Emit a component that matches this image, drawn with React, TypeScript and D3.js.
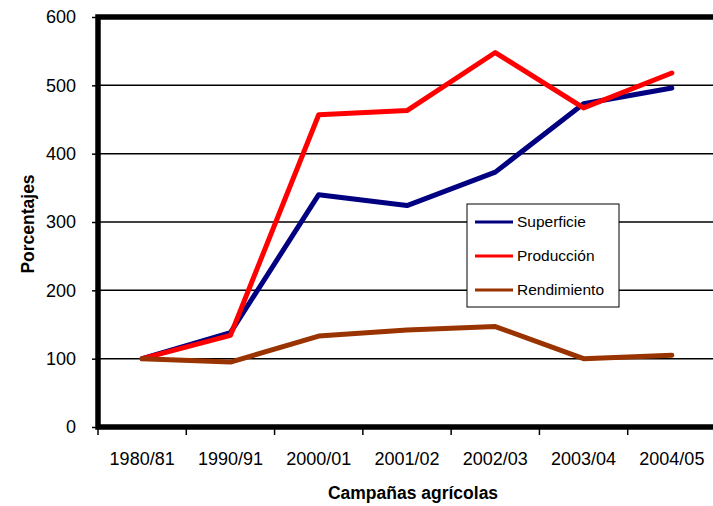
import React, { useEffect, useRef } from "react";
import * as d3 from "d3";

const campaigns = ["1980/81", "1990/91", "2000/01", "2001/02", "2002/03", "2003/04", "2004/05"];
const superficie = [100, 138, 340, 324, 373, 473, 496];
const produccion = [100, 134, 457, 463, 548, 467, 518];
const rendimiento = [100, 95, 133, 142, 147, 100, 105];
const yTicks = [0, 100, 200, 300, 400, 500, 600];

const series = [
  { name: "Superficie", values: superficie, color: "#000080" },
  { name: "Producción", values: produccion, color: "#ff0000" },
  { name: "Rendimiento", values: rendimiento, color: "#993300" },
];

export default function App() {
  const ref = useRef<SVGSVGElement>(null);

  useEffect(() => {
    const svg = d3.select(ref.current);
    svg.selectAll("*").remove();

    const left = 98, right = 716, top = 17, bottom = 427;
    const font = "Arial, 'Liberation Sans', sans-serif";

    const x = d3.scaleBand().domain(campaigns).range([left, right]);
    const y = d3.scaleLinear().domain([0, 600]).range([bottom, top]);

    // gridlines
    svg.append("g")
      .selectAll("line")
      .data(yTicks.filter(t => t > 0 && t < 600))
      .join("line")
      .attr("x1", left).attr("x2", right)
      .attr("y1", d => y(d)).attr("y2", d => y(d))
      .attr("stroke", "#000").attr("stroke-width", 1.5);

    // y axis
    const ya = svg.append("g")
      .attr("transform", `translate(${left},0)`)
      .call(d3.axisLeft(y).tickValues(yTicks).tickSize(6).tickPadding(16));
    ya.select(".domain").remove();
    ya.selectAll("line").attr("stroke", "#000").attr("stroke-width", 1.5);
    ya.selectAll("text").attr("font-family", font).attr("font-size", 18).attr("fill", "#000");

    // x axis
    const xa = svg.append("g")
      .attr("transform", `translate(0,${bottom})`)
      .call(d3.axisBottom(x).tickSize(0).tickPadding(25));
    xa.select(".domain").remove();
    xa.selectAll("text").attr("font-family", font).attr("font-size", 18).attr("fill", "#000");
    svg.append("g")
      .selectAll("line")
      .data(campaigns)
      .join("line")
      .attr("x1", d => x(d)!).attr("x2", d => x(d)!)
      .attr("y1", bottom).attr("y2", bottom + 8)
      .attr("stroke", "#000").attr("stroke-width", 1.5);

    // frame: left, bottom, top thick
    svg.append("path")
      .attr("d", `M${right},${top}H${left}V${bottom}H${right}`)
      .attr("fill", "none").attr("stroke", "#000").attr("stroke-width", 5.5);

    // lines
    const line = d3.line<number>()
      .x((_, i) => x(campaigns[i])! + x.bandwidth() / 2)
      .y(d => y(d));
    series.forEach(s => {
      svg.append("path")
        .datum(s.values)
        .attr("d", line)
        .attr("fill", "none")
        .attr("stroke", s.color)
        .attr("stroke-width", 5)
        .attr("stroke-linejoin", "round")
        .attr("stroke-linecap", "round");
    });

    // legend
    const lg = svg.append("g").attr("transform", "translate(467,204)");
    lg.append("rect").attr("width", 152).attr("height", 103)
      .attr("fill", "#fff").attr("stroke", "#000").attr("stroke-width", 1);
    series.forEach((s, i) => {
      const yy = 18 + i * 34;
      lg.append("line").attr("x1", 8).attr("x2", 46).attr("y1", yy).attr("y2", yy)
        .attr("stroke", s.color).attr("stroke-width", 3);
      lg.append("text").attr("x", 50).attr("y", yy + 5)
        .attr("font-family", font).attr("font-size", 15.5).attr("fill", "#000")
        .text(s.name);
    });

    // titles
    svg.append("text")
      .attr("transform", `translate(34,${(top + bottom) / 2 + 2}) rotate(-90)`)
      .attr("text-anchor", "middle")
      .attr("font-family", font).attr("font-size", 17.5).attr("font-weight", "bold")
      .text("Porcentajes");
    svg.append("text")
      .attr("x", 413).attr("y", 499)
      .attr("text-anchor", "middle")
      .attr("font-family", font).attr("font-size", 17.5).attr("font-weight", "bold")
      .text("Campañas agrícolas");
  }, []);

  return (
    <svg ref={ref} width={713} height={506}
      style={{ position: "absolute", left: 0, top: 0, background: "#fff" }} />
  );
}
